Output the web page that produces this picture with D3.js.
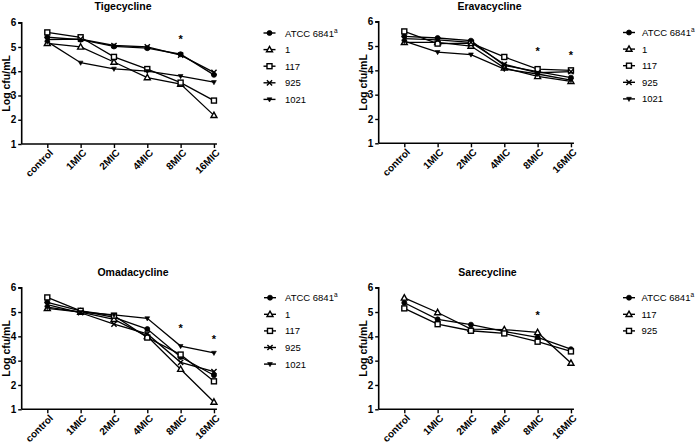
<!DOCTYPE html>
<html><head><meta charset="utf-8">
<script src="https://cdn.jsdelivr.net/npm/d3@7"></script>
<style>
body{margin:0;background:#fff}
svg{display:block}
text{font-family:"Liberation Sans",Arial,sans-serif;fill:#000}
</style>
</head><body>
<svg id="c" width="696" height="443"></svg>
<script>
// ---------- data ----------
const categories = ["control","1MIC","2MIC","4MIC","8MIC","16MIC"];
const yTicks = [1,2,3,4,5,6];

const strains5 = ["ATCC 6841","1","117","925","1021"];
const strains3 = ["ATCC 6841","117","925"];

// Tigecycline
const tigATCC = [5.40,5.30,5.02,4.95,4.70,3.85];
const tig1    = [5.15,5.00,4.38,3.74,3.47,2.18];
const tig117  = [5.60,5.40,4.59,4.09,3.53,2.79];
const tig925  = [5.30,5.32,5.06,5.00,4.66,3.95];
const tig1021 = [5.22,4.35,4.10,4.00,3.80,3.55];
const tigStars = [["8MIC",5.42]];

// Eravacycline
const eraATCC = [5.40,5.33,5.22,4.20,3.95,3.70];
const era1    = [5.15,5.15,5.00,4.10,3.75,3.55];
const era117  = [5.60,5.10,5.12,4.55,4.05,4.00];
const era925  = [5.30,5.25,5.15,4.25,3.90,3.95];
const era1021 = [5.20,4.75,4.65,4.05,3.85,3.60];
const eraStars = [["8MIC",4.86],["16MIC",4.70]];

// Omadacycline
const omaATCC = [5.40,5.05,4.78,4.30,3.15,2.40];
const oma1    = [5.15,5.00,4.70,4.00,2.65,1.30];
const oma117  = [5.60,5.05,4.85,3.95,3.25,2.15];
const oma925  = [5.30,4.97,4.50,4.10,2.93,2.55];
const oma1021 = [5.20,5.00,4.88,4.74,3.60,3.32];
const omaStars = [["8MIC",4.44],["16MIC",3.98]];

// Sarecycline
const sarATCC = [5.38,4.70,4.48,4.20,3.96,3.47];
const sar117  = [5.58,4.98,4.30,4.28,4.16,2.90];
const sar925  = [5.15,4.50,4.23,4.12,3.78,3.38];
const sarStars = [["8MIC",4.97]];

const markerTypes = ["circle","triangle","square","times","down"];

// ---------- layout ----------
const panels = [
  {title:"Tigecycline", strains:strains5, series:[tigATCC,tig1,tig117,tig925,tig1021], stars:tigStars,
   ax:21.7, top:22.7, bot:144, titleX:123, titleY:9.5, labX:9.5, legX:269.5, legTextX:285, legY:33},
  {title:"Eravacycline", strains:strains5, series:[eraATCC,era1,era117,era925,era1021], stars:eraStars,
   ax:378.7, top:21.7, bot:143.3, titleX:489.5, titleY:9.5, labX:366.5, legX:629, legTextX:642, legY:32.5},
  {title:"Omadacycline", strains:strains5, series:[omaATCC,oma1,oma117,oma925,oma1021], stars:omaStars,
   ax:21.7, top:287.7, bot:409.3, titleX:133, titleY:275.5, labX:9.5, legX:270, legTextX:285, legY:297.7},
  {title:"Sarecycline", strains:strains3, series:[sarATCC,sar117,sar925], stars:sarStars,
   ax:378.7, top:287.7, bot:409.3, titleX:487.5, titleY:275.5, labX:366.5, legX:629, legTextX:641.5, legY:297.7}
];

const svg = d3.select("#c");

function drawMarker(g, type, x, y){
  const s = g.append("g").attr("transform",`translate(${x},${y})`);
  if(type==="circle"){
    s.append("circle").attr("r",2.5).attr("fill","#000").attr("stroke","#000").attr("stroke-width",0.8);
  } else if(type==="triangle"){
    s.append("path").attr("d","M0,-3.2L3,2.2L-3,2.2Z").attr("fill","#fff").attr("stroke","#000").attr("stroke-width",1.4);
  } else if(type==="square"){
    s.append("rect").attr("x",-2.5).attr("y",-2.5).attr("width",5).attr("height",5)
      .attr("fill","#fff").attr("stroke","#000").attr("stroke-width",1.4);
  } else if(type==="times"){
    s.append("path").attr("d","M-2.6,-2.6L2.6,2.6M-2.6,2.6L2.6,-2.6").attr("stroke","#000").attr("stroke-width",1.4).attr("fill","none");
  } else if(type==="down"){
    s.append("path").attr("d","M0,2.6L2.4,-1.6L-2.4,-1.6Z").attr("fill","#000").attr("stroke","#000").attr("stroke-width",0.6);
  }
}

panels.forEach(p=>{
  const step = 33.33;
  const x0 = p.ax + 25.6;
  const x = d3.scalePoint().domain(categories).range([x0, x0 + step*(categories.length-1)]);
  const y = d3.scaleLinear().domain([1,6]).range([p.bot,p.top]);
  const g = svg.append("g");

  // y axis
  const yAxis = d3.axisLeft(y).tickValues(yTicks).tickSize(3.5).tickPadding(2).tickFormat(d3.format("d"));
  const ya = g.append("g").attr("transform",`translate(${p.ax},0)`).call(yAxis);
  ya.select(".domain").attr("stroke","#000").attr("stroke-width",1.6).attr("d",`M-3.5,${p.top}H0V${p.bot}`);
  ya.selectAll(".tick line").attr("stroke","#000").attr("stroke-width",1.4);
  ya.selectAll(".tick text").attr("font-size",10).attr("font-weight","bold").attr("fill","#000")
    .attr("font-family","Liberation Sans, Arial, sans-serif");

  // x axis
  const xAxis = d3.axisBottom(x).tickSize(4).tickPadding(2);
  const xa = g.append("g").attr("transform",`translate(0,${p.bot})`).call(xAxis);
  xa.select(".domain").attr("stroke","#000").attr("stroke-width",1.6)
    .attr("d",`M${p.ax},0H${x(categories[categories.length-1])+3}`);
  xa.selectAll(".tick line").attr("stroke","#000").attr("stroke-width",1.4);
  xa.selectAll(".tick text")
    .attr("font-size",10).attr("font-weight","bold").attr("fill","#000")
    .attr("font-family","Liberation Sans, Arial, sans-serif")
    .attr("text-anchor","end").attr("y",0).attr("dy",0)
    .attr("transform","translate(6,9.5) rotate(-45)");

  // title
  g.append("text").attr("x",p.titleX).attr("y",p.titleY).attr("text-anchor","middle")
    .attr("font-size",10.5).attr("font-weight","bold").text(p.title);

  // y label
  g.append("text").attr("transform",`translate(${p.labX},${(p.top+p.bot)/2}) rotate(-90)`)
    .attr("text-anchor","middle").attr("font-size",10.5).attr("font-weight","bold").text("Log cfu/mL");

  // lines
  const line = d3.line().x((d,i)=>x(categories[i])).y(d=>y(d));
  p.series.forEach((s,si)=>{
    g.append("path").datum(s).attr("d",line).attr("fill","none").attr("stroke","#000").attr("stroke-width",1.3);
  });
  p.series.forEach((s,si)=>{
    s.forEach((v,i)=>drawMarker(g, markerTypes[si], x(categories[i]), y(v)));
  });

  // stars
  p.stars.forEach(([c,v])=>{
    g.append("text").attr("x",x(c)).attr("y",y(v)+6).attr("text-anchor","middle")
      .attr("font-size",11).attr("font-weight","bold").attr("fill","#000").text("*");
  });

  // legend
  p.strains.forEach((name,i)=>{
    const ly = p.legY + i*16.6;
    g.append("line").attr("x1",p.legX-6).attr("x2",p.legX+6).attr("y1",ly).attr("y2",ly)
      .attr("stroke","#000").attr("stroke-width",1.4);
    drawMarker(g, markerTypes[i], p.legX, ly);
    const t = g.append("text").attr("x",p.legTextX).attr("y",ly+3.5).attr("font-size",9.5).text(name);
    if(name.startsWith("ATCC")){
      t.append("tspan").attr("font-size",6.5).attr("dy",-3.8).text("a");
    }
  });
});
</script>
</body></html>
